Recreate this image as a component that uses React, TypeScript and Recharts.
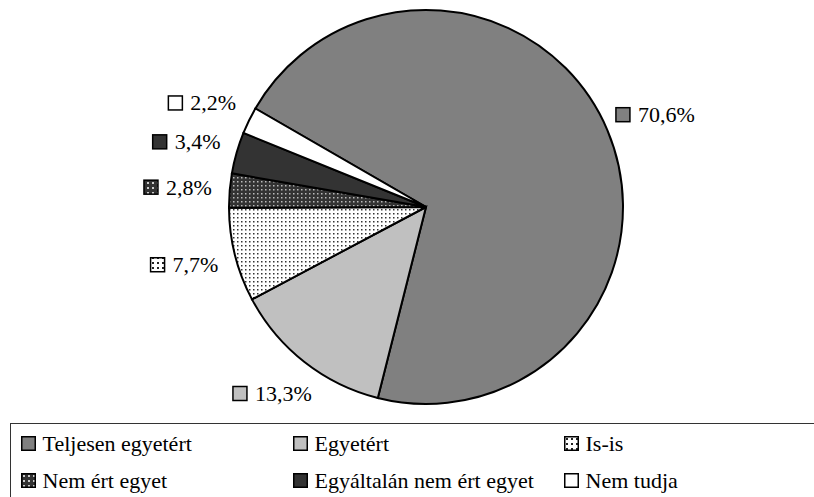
import React from 'react';
import { PieChart, Pie, Cell, Legend } from 'recharts';

const categories = [
  'Teljesen egyetért',
  'Egyetért',
  'Is-is',
  'Nem ért egyet',
  'Egyáltalán nem ért egyet',
  'Nem tudja',
];
const values = [70.6, 13.3, 7.7, 2.8, 3.4, 2.2];
const pctLabels = values.map((v) => v.toFixed(1).replace('.', ',') + '%');

const sliceFills = ['#808080', '#c0c0c0', 'url(#pIsis)', 'url(#pNemert)', '#333333', '#ffffff'];
const markerFills = ['#808080', '#c0c0c0', 'url(#pIsisL)', 'url(#pNemertL)', '#333333', '#ffffff'];

const data = categories.map((name, i) => ({ name, value: values[i] }));

const FONT = 'Liberation Serif';
const FS = 22;
const RADIAN = Math.PI / 180;

const charWidth = (c: string) => {
  if (c === ',') return 0.25;
  if (c === '%') return 0.833;
  return 0.5;
};
const textW = (s: string) => s.split('').reduce((a, c) => a + charWidth(c), 0) * FS;

const renderLabel = (props: any) => {
  const { cx, cy, midAngle, outerRadius, index } = props;
  const rx = outerRadius + 52;
  const ry = outerRadius + 40;
  const lx = cx + rx * Math.cos(-midAngle * RADIAN);
  const ly = cy + ry * Math.sin(-midAngle * RADIAN);
  const txt = pctLabels[index];
  const w = 22 + textW(txt);
  const x0 = lx - w / 2;
  return (
    <g key={'lbl' + index} style={{ fontFamily: FONT }}>
      <rect x={x0} y={ly - 7} width={14} height={14} fill={markerFills[index]} stroke="#000" strokeWidth={1.5} />
      <text x={x0 + 22} y={ly + 7.5} fontSize={FS} fontFamily={FONT} fill="#000" style={{ fontFamily: FONT }}>
        {txt}
      </text>
    </g>
  );
};

const renderLegend = (props: any) => {
  const payload = [...(props.payload || [])].sort(
    (a: any, b: any) => categories.indexOf(a.value) - categories.indexOf(b.value)
  );
  return (
    <div
      style={{
        width: 804,
        height: 74,
        boxSizing: 'border-box',
        borderTop: '1.5px solid #333',
        borderLeft: '1.5px solid #333',
        paddingLeft: 9.5,
        paddingTop: 1,
        display: 'grid',
        gridTemplateColumns: '272px 271px 250px',
        gridAutoRows: '37px',
        fontFamily: FONT,
        fontSize: FS,
        color: '#000',
      }}
    >
      {payload.map((e: any) => {
        const i = categories.indexOf(e.value);
        return (
          <div key={e.value} style={{ display: 'flex', alignItems: 'center', gap: 7, whiteSpace: 'nowrap', fontFamily: FONT }}>
            <svg width={15} height={15} style={{ display: 'block', flex: 'none' }}>
              <rect x={0.75} y={0.75} width={13.5} height={13.5} fill={markerFills[i]} stroke="#000" strokeWidth={1.5} />
            </svg>
            <span style={{ lineHeight: '37px', fontFamily: FONT }}>{e.value}</span>
          </div>
        );
      })}
    </div>
  );
};

export default function App() {
  return (
    <div style={{ position: 'absolute', left: 0, top: 0, width: 814, height: 497, overflow: 'hidden', background: '#fff', fontFamily: FONT }}>
      <PieChart width={814} height={497} margin={{ top: 0, right: 0, bottom: 0, left: 0 }} style={{ fontFamily: FONT }}>
        <defs>
          <pattern id="pIsis" width="4" height="4" patternUnits="userSpaceOnUse">
            <rect width="4" height="4" fill="#ffffff" />
            <rect x="1" y="1" width="1.5" height="1.5" fill="#333" />
          </pattern>
          <pattern id="pNemert" width="4" height="4" patternUnits="userSpaceOnUse">
            <rect width="4" height="4" fill="#333333" />
            <rect x="1" y="1" width="1.5" height="1.5" fill="#bbbbbb" />
          </pattern>
          <pattern id="pIsisL" width="5" height="5" patternUnits="userSpaceOnUse">
            <rect width="5" height="5" fill="#ffffff" />
            <rect x="2" y="2" width="2" height="2" fill="#222" />
          </pattern>
          <pattern id="pNemertL" width="5" height="5" patternUnits="userSpaceOnUse">
            <rect width="5" height="5" fill="#333333" />
            <rect x="2" y="2" width="2" height="2" fill="#cccccc" />
          </pattern>
        </defs>
        <Pie
          data={data}
          dataKey="value"
          nameKey="name"
          cx={426}
          cy={207}
          outerRadius={197}
          startAngle={150}
          endAngle={-210}
          stroke="#000"
          strokeWidth={2}
          label={renderLabel}
          labelLine={false}
          isAnimationActive={false}
        >
          {data.map((d, i) => (
            <Cell key={d.name} fill={sliceFills[i]} />
          ))}
        </Pie>
        <Legend
          content={renderLegend}
          verticalAlign="bottom"
          wrapperStyle={{ position: 'absolute', left: 10, top: 423, width: 804, height: 74, fontFamily: FONT }}
        />
      </PieChart>
    </div>
  );
}
